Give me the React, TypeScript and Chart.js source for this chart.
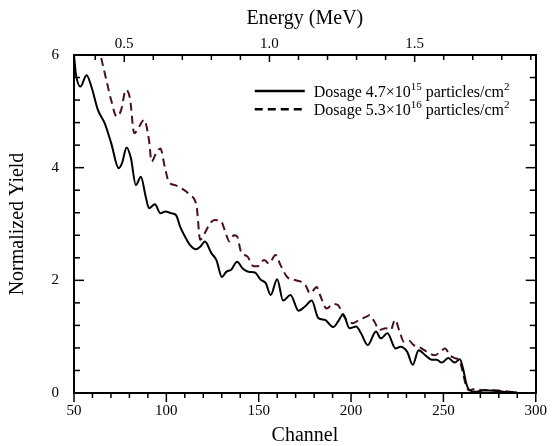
import React, { useEffect, useRef } from 'react';
import { Chart, registerables } from 'chart.js';

Chart.register(...registerables);

// ---- data ----
const solidChannel = [50, 51, 53.5, 56.8, 59.4, 63, 66.6, 70.1, 74.2, 76, 78.5, 80.8, 83.5, 86.2, 88.8, 90.6, 93.8, 96.8, 99.5, 102.7, 105.2, 107.5, 110.2, 113, 116, 118.5, 120.9, 124.4, 127.1, 130.1, 132.4, 135.1, 138.3, 141.3, 144.9, 147.9, 151.1, 153.8, 156.5, 160, 163.2, 167.2, 171.6, 175.2, 178.7, 182.3, 185.8, 190.3, 193, 195.7, 199.2, 202.8, 205.4, 209, 213.5, 216.1, 219.7, 224.1, 226.8, 230.4, 233.4, 236.6, 240.2, 243.7, 246.4, 249.1, 252.6, 256.2, 258.9, 260.6, 262.4, 264.2, 267.8, 272.2, 277.6, 282.9, 290];
const solidYield = [6.0, 5.67, 5.44, 5.64, 5.44, 5.02, 4.79, 4.44, 3.99, 4.08, 4.36, 4.17, 3.69, 3.84, 3.49, 3.28, 3.35, 3.19, 3.22, 3.19, 3.16, 2.95, 2.77, 2.62, 2.55, 2.6, 2.69, 2.48, 2.36, 2.06, 2.15, 2.19, 2.33, 2.21, 2.15, 2.14, 2.01, 1.95, 1.74, 2.02, 1.64, 1.74, 1.46, 1.54, 1.64, 1.33, 1.30, 1.17, 1.27, 1.40, 1.15, 1.18, 1.06, 0.85, 1.09, 0.97, 1.06, 0.79, 0.82, 0.73, 0.50, 0.76, 0.67, 0.59, 0.59, 0.54, 0.62, 0.54, 0.60, 0.44, 0.17, 0.05, 0.02, 0.05, 0.04, 0.02, 0.01];

const dashChannel = [62, 64.8, 67.5, 70.1, 73.1, 75.5, 78.1, 80.3, 82.6, 85.3, 87.9, 90.6, 92, 94.5, 96.8, 99.1, 101.3, 104.8, 108.4, 112.9, 116.4, 118.3, 121, 123.6, 126.2, 129.8, 131.6, 134.2, 136.5, 138.3, 140.4, 144, 147.2, 149.4, 152.9, 155.6, 159.1, 161.8, 165.4, 169, 172.5, 175.2, 177.9, 181.4, 183.2, 186.8, 190.3, 193, 195.3, 197.4, 201, 204.5, 208.1, 209.9, 212.6, 215.3, 218.8, 221.5, 223.8, 226, 228.6, 231.3, 233.9, 236.6, 241.1, 245.5, 248.2, 250.9, 253.5, 256.2, 258.9, 260.6, 261.9, 263.7, 266.9, 272, 276, 281, 287.2, 290];
const dashYield = [6.4, 5.94, 5.56, 5.20, 4.91, 5.02, 5.38, 5.23, 4.61, 4.73, 4.85, 4.49, 4.11, 4.26, 4.34, 4.02, 3.75, 3.69, 3.63, 3.51, 3.31, 2.72, 2.85, 3.01, 3.07, 3.04, 2.89, 2.69, 2.80, 2.78, 2.51, 2.42, 2.25, 2.25, 2.36, 2.30, 2.45, 2.27, 2.06, 2.01, 1.98, 1.92, 1.77, 1.88, 1.74, 1.50, 1.58, 1.56, 1.41, 1.30, 1.24, 1.30, 1.35, 1.38, 1.27, 1.12, 1.15, 1.12, 1.30, 1.12, 0.91, 0.93, 0.85, 0.82, 0.73, 0.67, 0.73, 0.79, 0.67, 0.62, 0.56, 0.35, 0.17, 0.05, 0.07, 0.05, 0.05, 0.04, 0.02, 0.01];

const channelTicks = [50, 100, 150, 200, 250, 300];
const energyTicks = [0.5, 1.0, 1.5];
const yieldTicks = [0, 2, 4, 6];
const energyRange = [0.327, 1.917];

const legendLabels = ['Dosage 4.7×10', 'Dosage 5.3×10'];
const legendExponents = ['15', '16'];
const legendUnit = ' particles/cm';
const legendUnitExponent = '2';

const FONT = '"Liberation Serif", "Times New Roman", serif';
const SOLID_COLOR = '#000000';
const DASH_COLOR = '#4a0f1e';

const frameTicksPlugin = {
  id: 'frameTicks',
  afterDraw(chart: any) {
    const { ctx, chartArea: a, scales } = chart;
    ctx.save();
    ctx.strokeStyle = '#000';
    ctx.lineWidth = 1.5;
    const seg = (x1: number, y1: number, x2: number, y2: number) => {
      ctx.beginPath();
      ctx.moveTo(x1, y1);
      ctx.lineTo(x2, y2);
      ctx.stroke();
    };
    // bottom: outward
    for (let c = 50; c <= 300; c += 10) {
      const px = scales.x.getPixelForValue(c);
      const len = c % 50 === 0 ? 9 : 5;
      seg(px, a.bottom, px, a.bottom + len);
    }
    // left & right: inward
    for (let i = 0; i <= 15; i++) {
      const v = i * 0.4;
      const py = scales.y.getPixelForValue(v);
      const len = i % 5 === 0 ? 10 : 6;
      seg(a.left, py, a.left + len, py);
      seg(a.right, py, a.right - len, py);
    }
    // top: inward
    for (let i = 4; i <= 19; i++) {
      const e = i / 10;
      const px = scales.xTop.getPixelForValue(e);
      if (px < a.left || px > a.right) continue;
      const len = i % 5 === 0 ? 7 : 5;
      seg(px, a.top, px, a.top + len);
    }
    ctx.restore();
  },
};

const legendPlugin = {
  id: 'supLegend',
  afterDraw(chart: any) {
    const { ctx, chartArea: a } = chart;
    ctx.save();
    const x0 = a.right - 281;
    const y0 = a.top + 36;
    const gap = 18.3;
    chart.data.datasets.forEach((ds: any, i: number) => {
      const y = y0 + i * gap;
      ctx.strokeStyle = '#000';
      ctx.lineWidth = 2.5;
      ctx.setLineDash(ds.borderDash || []);
      ctx.beginPath();
      ctx.moveTo(x0, y);
      ctx.lineTo(x0 + 50, y);
      ctx.stroke();
      ctx.setLineDash([]);
      ctx.fillStyle = '#000';
      ctx.textBaseline = 'alphabetic';
      ctx.textAlign = 'left';
      let x = x0 + 59;
      const base = y + 5.5;
      ctx.font = `16px ${FONT}`;
      ctx.fillText(legendLabels[i], x, base);
      x += ctx.measureText(legendLabels[i]).width;
      ctx.font = `11px ${FONT}`;
      ctx.fillText(legendExponents[i], x, base - 6.5);
      x += ctx.measureText(legendExponents[i]).width;
      ctx.font = `16px ${FONT}`;
      ctx.fillText(legendUnit, x, base);
      x += ctx.measureText(legendUnit).width;
      ctx.font = `11px ${FONT}`;
      ctx.fillText(legendUnitExponent, x, base - 6.5);
    });
    ctx.restore();
  },
};

export default function App() {
  const ref = useRef<HTMLCanvasElement>(null);
  useEffect(() => {
    if (!ref.current) return;
    const tickFont = { family: FONT, size: 15 };
    const titleFont = { family: FONT, size: 20, lineHeight: 1 };
    const chart = new Chart(ref.current, {
      type: 'line',
      data: {
        datasets: [
          {
            label: legendLabels[0],
            data: solidChannel.map((c, i) => ({ x: c, y: solidYield[i] })),
            borderColor: SOLID_COLOR,
            borderWidth: 2,
            pointRadius: 0,
            cubicInterpolationMode: 'monotone',
            xAxisID: 'x',
            yAxisID: 'y',
          },
          {
            label: legendLabels[1],
            data: dashChannel.map((c, i) => ({ x: c, y: dashYield[i] })),
            borderColor: DASH_COLOR,
            borderWidth: 2,
            borderDash: [8, 5],
            pointRadius: 0,
            cubicInterpolationMode: 'monotone',
            xAxisID: 'x',
            yAxisID: 'y',
          },
        ],
      },
      options: {
        responsive: false,
        animation: false,
        layout: { padding: 0 },
        plugins: { legend: { display: false }, tooltip: { enabled: false } },
        scales: {
          x: {
            type: 'linear',
            position: 'bottom',
            min: 50,
            max: 300,
            afterBuildTicks: (s: any) => { s.ticks = channelTicks.map((v) => ({ value: v })); },
            ticks: { font: tickFont, color: '#000', padding: 9, maxRotation: 0 },
            grid: { display: false, drawTicks: false },
            border: { display: true, color: '#000', width: 2 },
            title: { display: true, text: 'Channel', font: titleFont, color: '#000', padding: { top: 0, bottom: 0 } },
            afterFit: (s: any) => { s.height = 53; },
          },
          xTop: {
            type: 'linear',
            position: 'top',
            min: energyRange[0],
            max: energyRange[1],
            afterBuildTicks: (s: any) => { s.ticks = energyTicks.map((v) => ({ value: v })); },
            ticks: { font: tickFont, color: '#000', padding: 2, maxRotation: 0, callback: (v: any) => Number(v).toFixed(1) },
            grid: { display: false, drawTicks: false },
            border: { display: true, color: '#000', width: 2 },
            title: { display: true, text: 'Energy (MeV)', font: titleFont, color: '#000', padding: { top: 9, bottom: 0 } },
            afterFit: (s: any) => { s.height = 55; },
          },
          y: {
            type: 'linear',
            position: 'left',
            min: 0,
            max: 6,
            afterBuildTicks: (s: any) => { s.ticks = yieldTicks.map((v) => ({ value: v })); },
            ticks: { font: tickFont, color: '#000', padding: 15 },
            grid: { display: false, drawTicks: false },
            border: { display: true, color: '#000', width: 2 },
            title: { display: true, text: 'Normalized Yield', font: titleFont, color: '#000', padding: { top: 8, bottom: 0 } },
            afterFit: (s: any) => { s.width = 74; },
          },
          yRight: {
            type: 'linear',
            position: 'right',
            min: 0,
            max: 6,
            ticks: { display: false },
            grid: { display: false, drawTicks: false },
            border: { display: true, color: '#000', width: 2 },
            afterFit: (s: any) => { s.width = 14; },
          },
        },
      },
      plugins: [frameTicksPlugin, legendPlugin],
    } as any);
    return () => chart.destroy();
  }, []);
  return (
    <div style={{ position: 'absolute', left: 0, top: 0, width: 556, height: 446, background: '#fff' }}>
      <canvas ref={ref} width={556} height={446} />
    </div>
  );
}
